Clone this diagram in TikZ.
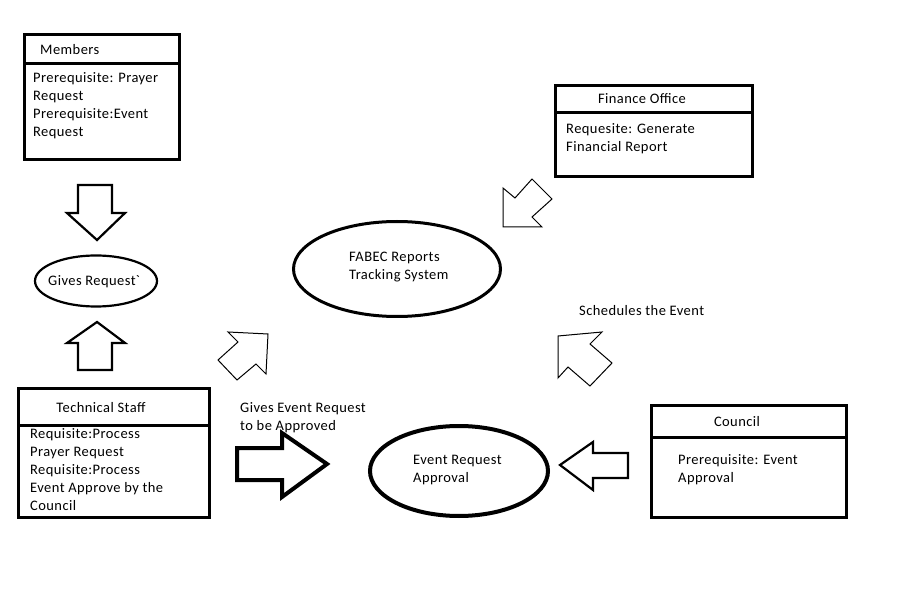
\documentclass[tikz,border=0pt]{standalone}
\usepackage{fontspec}
\setmainfont{Carlito}[LetterSpace=3]
\usetikzlibrary{shapes.geometric}
\begin{document}
\begin{tikzpicture}[x=1pt,y=-1pt,
  txt/.style={inner sep=0pt, anchor=base west, font=\fontsize{14.5}{18}\selectfont},
  ctxt/.style={inner sep=0pt, anchor=base, font=\fontsize{14.5}{18}\selectfont},
  box/.style={draw, line width=3pt, inner sep=0pt},
  oval/.style={draw, ellipse, inner sep=0pt},
  blockarrow/.style={draw, line width=2.2pt, line join=miter},
  thinarrow/.style={draw, line width=1pt, line join=miter}]
  \fill[white] (0,0) rectangle (900,612);

  % Members
  \node[box, minimum width=155, minimum height=125] (members) at (101.5,97.5) {};
  \draw[line width=3pt] (24,64) -- (179,64);
  \node[txt] (memt) at (40,55) {Members};
  \node[txt] (mem1) at (33,83) {Prerequisite: Prayer};
  \node[txt] (mem2) at (33,101) {Request};
  \node[txt] (mem3) at (33,119) {Prerequisite:Event};
  \node[txt] (mem4) at (33,137) {Request};

  % down arrow into Gives Request
  \draw[blockarrow] (78,185) -- (112,185) -- (112,213) -- (125,213) -- (97,240)
    -- (67,213) -- (78,213) -- cycle;

  % Gives Request
  \node[oval, line width=2.2pt, minimum width=122, minimum height=51] (gives) at (96,281) {};
  \node[txt] (givest) at (48,286) {Gives Request\textasciigrave};

  % up arrow from Technical Staff
  \draw[blockarrow] (78,370) -- (112,370) -- (112,343) -- (125,343) -- (97,322)
    -- (67,343) -- (78,343) -- cycle;

  % Technical Staff
  \node[box, minimum width=191, minimum height=128] (tech) at (113.5,453) {};
  \draw[line width=3pt] (18,425) -- (209,425);
  \node[ctxt] (techt) at (101,412) {Technical Staff};
  \node[txt] (tech1) at (30,438) {Requisite:Process};
  \node[txt] (tech2) at (30,456) {Prayer Request};
  \node[txt] (tech3) at (30,474) {Requisite:Process};
  \node[txt] (tech4) at (30,492) {Event Approve by the};
  \node[txt] (tech5) at (30,510) {Council};

  % thick arrow to Event Request Approval
  \draw[draw, line width=4pt, line join=miter] (237,448) -- (282,448) -- (282,433) -- (327,464)
    -- (282,497) -- (282,480) -- (237,480) -- cycle;
  \node[txt] (give1) at (240,412) {Gives Event Request};
  \node[txt] (give2) at (240,430) {to be Approved};

  % Event Request Approval
  \node[oval, line width=4pt, minimum width=178, minimum height=90] (approval) at (459,471) {};
  \node[txt] (appt1) at (413,464) {Event Request};
  \node[txt] (appt2) at (413,482) {Approval};

  % arrow from Council
  \draw[blockarrow] (628,453) -- (593,453) -- (593,442) -- (560,465) -- (593,490)
    -- (593,478) -- (628,478) -- cycle;

  % Council
  \node[box, minimum width=195, minimum height=112] (council) at (748.5,461) {};
  \draw[line width=3pt] (651,437) -- (846,437);
  \node[ctxt] (councilt) at (737,426) {Council};
  \node[txt] (coun1) at (678,464) {Prerequisite: Event};
  \node[txt] (coun2) at (678,482) {Approval};

  % Schedules the Event
  \node[txt] (sched) at (579,316) {Schedules the Event};
  \draw[thinarrow] (558,336) -- (602,332) -- (590,344) -- (612,363) -- (590,386)
    -- (568,367) -- (558,378) -- cycle;

  % FABEC
  \node[oval, line width=3pt, minimum width=207, minimum height=95] (fabec) at (397,269) {};
  \node[txt] (fab1) at (349,262) {FABEC Reports};
  \node[txt] (fab2) at (349,280) {Tracking System};

  % arrow toward FABEC from lower left
  \draw[thinarrow] (228,332) -- (268,334) -- (266,374) -- (256,364) -- (237,380)
    -- (218,360) -- (238,342) -- cycle;

  % Finance Office
  \node[box, minimum width=197, minimum height=91] (finance) at (653.5,131.5) {};
  \draw[line width=3pt] (555,113) -- (752,113);
  \node[ctxt] (fint) at (642,104) {Finance Office};
  \node[txt] (fin1) at (566,134) {Requesite: Generate};
  \node[txt] (fin2) at (566,152) {Financial Report};

  % arrow from Finance Office
  \draw[thinarrow] (503,188) -- (515,198) -- (532,179) -- (552,199) -- (532,217)
    -- (542,227) -- (503,227) -- cycle;
\end{tikzpicture}
\end{document}
